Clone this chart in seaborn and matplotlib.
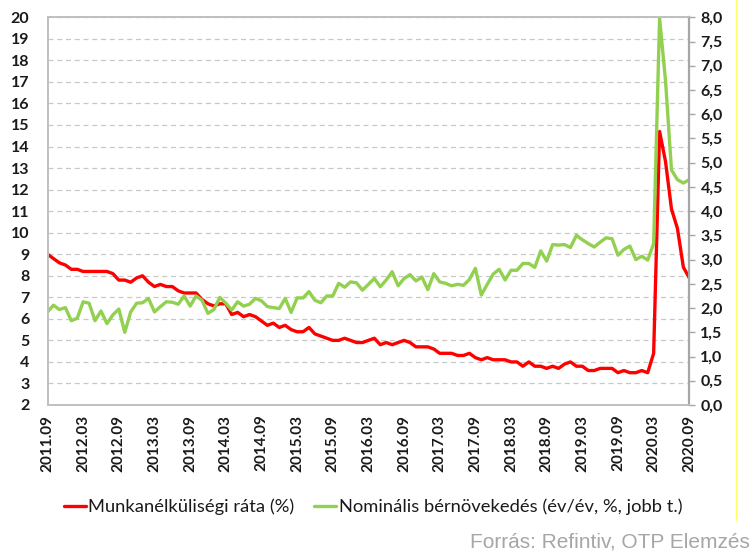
"""
Munkanélküliségi ráta és nominális bérnövekedés (USA), 2011.09-2020.09
"""

import numpy as np
import pandas as pd
import matplotlib
matplotlib.use("Agg")
import matplotlib.pyplot as plt
from matplotlib.lines import Line2D
from matplotlib.ticker import FuncFormatter, MultipleLocator
import seaborn as sns


# havi adatok, 2011.09-tól 2020.09-ig
munkanelkuliseg = [
    9.0, 8.8, 8.6, 8.5,
    8.3, 8.3, 8.2, 8.2, 8.2, 8.2, 8.2, 8.1, 7.8, 7.8, 7.7, 7.9,
    8.0, 7.7, 7.5, 7.6, 7.5, 7.5, 7.3, 7.2, 7.2, 7.2, 6.9, 6.7,
    6.6, 6.7, 6.7, 6.2, 6.3, 6.1, 6.2, 6.1, 5.9, 5.7, 5.8, 5.6,
    5.7, 5.5, 5.4, 5.4, 5.6, 5.3, 5.2, 5.1, 5.0, 5.0, 5.1, 5.0,
    4.9, 4.9, 5.0, 5.1, 4.8, 4.9, 4.8, 4.9, 5.0, 4.9, 4.7, 4.7,
    4.7, 4.6, 4.4, 4.4, 4.4, 4.3, 4.3, 4.4, 4.2, 4.1, 4.2, 4.1,
    4.1, 4.1, 4.0, 4.0, 3.8, 4.0, 3.8, 3.8, 3.7, 3.8, 3.7, 3.9,
    4.0, 3.8, 3.8, 3.6, 3.6, 3.7, 3.7, 3.7, 3.5, 3.6, 3.5, 3.5,
    3.6, 3.5, 4.4, 14.7, 13.3, 11.1, 10.2, 8.4, 7.9,
]

berno = [
    1.92, 2.06, 1.97, 2.01,
    1.74, 1.79, 2.13, 2.10, 1.74, 1.94, 1.68, 1.86, 1.98, 1.50, 1.92, 2.10,
    2.11, 2.20, 1.92, 2.03, 2.13, 2.12, 2.08, 2.25, 2.04, 2.25, 2.16, 1.89,
    1.97, 2.22, 2.10, 1.96, 2.13, 2.04, 2.08, 2.20, 2.15, 2.03, 2.01, 1.99,
    2.20, 1.91, 2.21, 2.21, 2.34, 2.16, 2.11, 2.25, 2.25, 2.51, 2.43, 2.54,
    2.52, 2.37, 2.49, 2.61, 2.44, 2.58, 2.75, 2.46, 2.61, 2.69, 2.56, 2.64,
    2.38, 2.71, 2.54, 2.51, 2.46, 2.49, 2.47, 2.59, 2.82, 2.27, 2.49, 2.70,
    2.80, 2.58, 2.78, 2.78, 2.92, 2.92, 2.84, 3.18, 2.97, 3.31, 3.30, 3.31,
    3.25, 3.50, 3.41, 3.33, 3.26, 3.36, 3.45, 3.43, 3.09, 3.21, 3.28, 3.00,
    3.07, 2.99, 3.33, 7.98, 6.69, 4.85, 4.65, 4.58, 4.65,
]

tick_cimkek = [
    "2011.09", "2012.03", "2012.09", "2013.03", "2013.09", "2014.03",
    "2014.09", "2015.03", "2015.09", "2016.03", "2016.09", "2017.03",
    "2017.09", "2018.03", "2018.09", "2019.03", "2019.09", "2020.03",
    "2020.09",
]

PIROS = "#ff0000"
ZOLD = "#92d050"
SZURKE = "#bfbfbf"

sns.set_style("white")
plt.rcParams["font.family"] = ["Lato", "DejaVu Sans"]

df = pd.DataFrame({
    "honap": np.arange(len(munkanelkuliseg)),
    "ráta": munkanelkuliseg,
    "bér": berno,
})

fig = plt.figure(figsize=(7.51, 5.51), dpi=100)
ax = fig.add_axes([47.5 / 751, 1 - 405 / 551, (689.3 - 47.5) / 751, (405 - 17.3) / 551])
ax2 = ax.twinx()

sns.lineplot(data=df, x="honap", y="ráta", ax=ax, color=PIROS, linewidth=2.4)
sns.lineplot(data=df, x="honap", y="bér", ax=ax2, color=ZOLD, linewidth=2.4)

# bal tengely
ax.set_xlim(0, len(df) - 1)
ax.set_ylim(2, 20)
ax.yaxis.set_major_locator(MultipleLocator(1))
ax.grid(axis="y", color="#c8c8c8", linestyle=(0, (4, 3)), linewidth=0.9)
ax.set_axisbelow(True)
ax.tick_params(axis="y", length=0, pad=13, labelsize=11.5)
ax.set_xticks(np.arange(0, len(df), 6))
ax.set_xticklabels(tick_cimkek, rotation=90)
ax.tick_params(axis="x", length=0, pad=7, labelsize=11)
for lbl in ax.get_xticklabels() + ax.get_yticklabels():
    lbl.set_fontweight("bold")
    lbl.set_color("#1a1a1a")
ax.set_xlabel("")
ax.set_ylabel("")

# jobb tengely
ax2.set_ylim(0, 8)
ax2.yaxis.set_major_locator(MultipleLocator(0.5))
ax2.yaxis.set_major_formatter(FuncFormatter(lambda v, p: f"{v:.1f}".replace(".", ",")))
ax2.tick_params(axis="y", length=4, width=1, color="#a6a6a6", pad=4, labelsize=11.5)
for lbl in ax2.get_yticklabels():
    lbl.set_fontweight("bold")
    lbl.set_color("#1a1a1a")
ax2.set_ylabel("")
ax2.grid(False)

for a in (ax, ax2):
    for s in a.spines.values():
        s.set_color(SZURKE)
        s.set_linewidth(1.2)
ax2.spines["right"].set_color("#a6a6a6")
ax2.spines["right"].set_linewidth(1.6)

# jelmagyarázat
kezelok = [
    Line2D([0], [0], color=PIROS, linewidth=2.4),
    Line2D([0], [0], color=ZOLD, linewidth=2.4),
]
fig.legend(kezelok,
           ["Munkanélküliségi ráta (%)", "Nominális bérnövekedés (év/év, %, jobb t.)"],
           loc="center", bbox_to_anchor=(373 / 751, 1 - 507 / 551), ncol=2,
           frameon=False, fontsize=13.2, handlelength=1.2, handletextpad=0.12,
           columnspacing=1.1, labelcolor="#1a1a1a")

fig.text(750 / 751, 1 - 548 / 551, "Forrás: Refintiv, OTP Elemzés",
         ha="right", va="baseline", fontsize=15, color="#a6a6a6",
         family=["Liberation Sans", "DejaVu Sans"])

fig.add_artist(Line2D([736 / 751, 736 / 751], [1, 1 - 520 / 551],
                      color="#ffff66", linewidth=1, transform=fig.transFigure))

fig.savefig("out.png", dpi=100)
